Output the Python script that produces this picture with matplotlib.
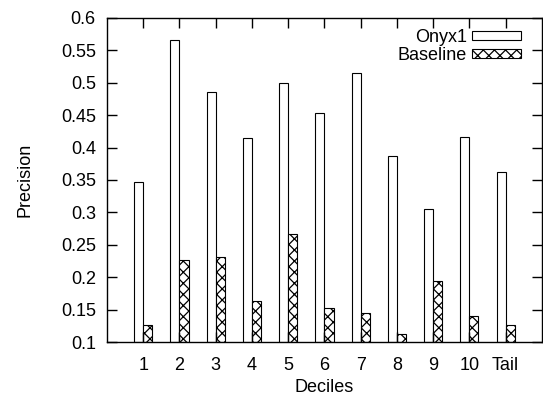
import numpy as np
import matplotlib
matplotlib.use("Agg")
import matplotlib.pyplot as plt

plt.rcParams['font.family'] = ['Liberation Sans', 'DejaVu Sans']
plt.rcParams['hatch.linewidth'] = 0.9

labels = ['1', '2', '3', '4', '5', '6', '7', '8', '9', '10', 'Tail']
onyx1 = [0.347, 0.566, 0.486, 0.415, 0.500, 0.453, 0.515, 0.387, 0.306, 0.417, 0.363]
baseline = [0.126, 0.226, 0.232, 0.163, 0.267, 0.152, 0.145, 0.112, 0.195, 0.140, 0.126]

x = np.arange(1, len(labels) + 1)
w = 0.25
fs = 13

fig = plt.figure(figsize=(5.43, 3.96), dpi=100)
ax = fig.add_axes([0.197, 0.136, 0.801, 0.819])

ax.bar(x - w, np.array(onyx1) - 0.1, w, bottom=0.1, align='edge',
       facecolor='white', edgecolor='black', linewidth=0.8, label='Onyx1')
ax.bar(x, np.array(baseline) - 0.1, w, bottom=0.1, align='edge',
       facecolor='white', edgecolor='black', linewidth=0.8, hatch='xxx',
       label='Baseline')

ax.set_xlim(0, 12)
ax.set_ylim(0.1, 0.6)
ax.set_xticks(x)
ax.set_xticklabels(labels)
ax.set_yticks(np.arange(0.1, 0.601, 0.05))
ax.set_yticklabels(['0.1', '0.15', '0.2', '0.25', '0.3', '0.35', '0.4',
                    '0.45', '0.5', '0.55', '0.6'])
ax.tick_params(direction='in', top=True, right=True, length=7, width=1,
               labelsize=fs)
ax.tick_params(axis='x', pad=11)
ax.tick_params(axis='y', pad=8)
for s in ax.spines.values():
    s.set_linewidth(1)

ax.set_xlabel('Deciles', fontsize=fs, labelpad=3)
ax.set_ylabel('Precision', fontsize=fs, labelpad=20)

ax.legend(loc='upper right', bbox_to_anchor=(0.952, 0.965), frameon=False,
          markerfirst=False, fontsize=fs, handlelength=2.7, handleheight=0.35,
          labelspacing=0.05, borderpad=0, borderaxespad=0, handletextpad=0.3)

fig.savefig('out.png', dpi=100)
